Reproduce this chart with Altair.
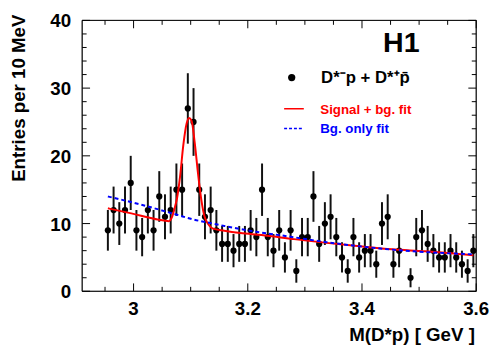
import altair as alt
import pandas as pd

# ---------------- data ----------------
mass = [2.955, 2.965, 2.975, 2.985, 2.995, 3.005, 3.015, 3.025, 3.035, 3.045,
        3.055, 3.065, 3.075, 3.085, 3.095, 3.105, 3.115, 3.125, 3.135, 3.145,
        3.155, 3.165, 3.175, 3.185, 3.195, 3.205, 3.215, 3.225, 3.235, 3.245,
        3.255, 3.265, 3.275, 3.285, 3.295, 3.305, 3.315, 3.325, 3.335, 3.345,
        3.355, 3.365, 3.375, 3.385, 3.395, 3.405, 3.415, 3.425, 3.435, 3.445,
        3.455, 3.465, 3.485, 3.495, 3.505, 3.515, 3.525, 3.535, 3.545, 3.555,
        3.565, 3.575, 3.585, 3.595]
counts = [9, 12, 10, 12, 16, 9, 8, 12, 9, 14,
          11, 12, 15, 15, 27, 25, 15, 11, 12, 9,
          7, 7, 6, 7, 7, 9, 8, 15, 8, 6,
          9, 5, 9, 3, 8, 8, 14, 7, 10, 11,
          8, 5, 3, 8, 5, 6, 6, 4, 10, 11,
          4, 6, 2, 8, 9, 7, 6, 5, 5, 6,
          5, 4, 3, 6]
errors = [3.0, 3.46, 3.16, 3.46, 4.0, 3.0, 2.83, 3.46, 3.0, 3.74,
          3.32, 3.46, 3.87, 3.87, 5.2, 5.0, 3.87, 3.32, 3.46, 3.0,
          2.65, 2.65, 2.45, 2.65, 2.65, 3.0, 2.83, 3.87, 2.83, 2.45,
          3.0, 2.24, 3.0, 1.73, 2.83, 2.83, 3.74, 2.65, 3.16, 3.32,
          2.83, 2.24, 1.73, 2.83, 2.24, 2.45, 2.45, 2.0, 3.16, 3.32,
          2.0, 2.45, 1.41, 2.83, 3.0, 2.65, 2.45, 2.24, 2.24, 2.45,
          2.24, 2.0, 1.73, 2.45]

sig_mass = [2.955, 2.996, 3.042, 3.062, 3.067, 3.072, 3.076, 3.0815, 3.087, 3.093,
            3.097, 3.1015, 3.107, 3.113, 3.119, 3.124, 3.130, 3.138, 3.159, 3.187,
            3.224, 3.281, 3.338, 3.396, 3.453, 3.510, 3.595]
sig_val = [12.25, 11.5, 10.6, 10.35, 10.9, 12.3, 13.7, 17.0, 21.5, 24.8,
           25.6, 25.2, 22.0, 17.3, 13.3, 11.1, 10.0, 9.3, 8.95, 8.6,
           8.3, 7.7, 7.15, 6.65, 6.2, 5.9, 5.3]

bg_mass = [2.955, 3.013, 3.076, 3.105, 3.130, 3.159, 3.187, 3.221, 3.259, 3.338, 3.453, 3.595]
bg_val = [14.0, 12.8, 11.3, 10.6, 10.15, 9.65, 9.2, 8.7, 8.25, 7.25, 6.15, 5.45]

x_range = [2.91, 3.6]
y_range = [0, 40]
x_label_vals = [3.0, 3.2, 3.4, 3.6]
x_label_text = ["3", "3.2", "3.4", "3.6"]
x_minor = [2.95, 3.05, 3.1, 3.15, 3.25, 3.3, 3.35, 3.45, 3.5, 3.55]
y_label_vals = [0, 10, 20, 30, 40]
y_label_text = ["0", "10", "20", "30", "40"]
y_minor = [2, 4, 6, 8, 12, 14, 16, 18, 22, 24, 26, 28, 32, 34, 36, 38]

legend_labels = ["D*\u207bp + D*\u207ap\u0304", "Signal + bg. fit", "Bg. only fit"]
experiment = "H1"
x_title = "M(D*p)  [ GeV ]"
y_title = "Entries per 10 MeV"

# ---------------- chart ----------------
W, H = 400, 275
FONT = "Liberation Sans"
xs = alt.Scale(domain=x_range, nice=False, zero=False)
ys = alt.Scale(domain=y_range, nice=False, zero=False)

pts = pd.DataFrame({"m": mass, "n": counts, "e": errors})
base = alt.Chart(pts)

dots = base.mark_circle(color="#000", size=40, opacity=1).encode(
    x=alt.X("m:Q", scale=xs, axis=None),
    y=alt.Y("n:Q", scale=ys, axis=None),
)

errbars = base.transform_calculate(
    lo="datum.n - datum.e", hi="datum.n + datum.e"
).mark_rule(color="#111", strokeWidth=2).encode(
    x=alt.X("m:Q", scale=xs, axis=None),
    y=alt.Y("lo:Q", scale=ys, axis=None),
    y2="hi:Q",
)

sig = alt.Chart(pd.DataFrame({"m": sig_mass, "v": sig_val})).mark_line(
    color="#ff0000", strokeWidth=2, interpolate="monotone"
).encode(x=alt.X("m:Q", scale=xs, axis=None), y=alt.Y("v:Q", scale=ys, axis=None))

bg = alt.Chart(pd.DataFrame({"m": bg_mass, "v": bg_val})).mark_line(
    color="#0000ff", strokeWidth=2, strokeDash=[4, 3], interpolate="monotone"
).encode(x=alt.X("m:Q", scale=xs, axis=None), y=alt.Y("v:Q", scale=ys, axis=None))


def yticks(vals, length):
    d = alt.Chart(pd.DataFrame({"v": vals}))
    left = d.mark_rule(color="#000", strokeWidth=1).encode(
        y=alt.Y("v:Q", scale=ys, axis=None), x=alt.value(0), x2=alt.value(length))
    right = d.mark_rule(color="#000", strokeWidth=1).encode(
        y=alt.Y("v:Q", scale=ys, axis=None), x=alt.value(W), x2=alt.value(W - length))
    return [left, right]


def xticks(vals, length):
    d = alt.Chart(pd.DataFrame({"v": vals}))
    bottom = d.mark_rule(color="#000", strokeWidth=1).encode(
        x=alt.X("v:Q", scale=xs, axis=None), y=alt.value(H), y2=alt.value(H - length))
    top = d.mark_rule(color="#000", strokeWidth=1).encode(
        x=alt.X("v:Q", scale=xs, axis=None), y=alt.value(0), y2=alt.value(length))
    return [bottom, top]


ticks = yticks(y_label_vals, 8) + yticks(y_minor, 4.5) + xticks(x_label_vals, 8) + xticks(x_minor, 4.5)

# plot frame as four thin filled bars along the axis ranges
frame_df = pd.DataFrame({
    "xa": [x_range[0], x_range[0], x_range[0], x_range[1]],
    "xb": [x_range[1], x_range[1], x_range[0], x_range[1]],
    "ya": [y_range[0], y_range[1], y_range[0], y_range[0]],
    "yb": [y_range[0], y_range[1], y_range[1], y_range[1]],
})
frame = alt.Chart(frame_df).mark_rect(
    color="#000", fill="#000", stroke="#000", strokeWidth=0.8, opacity=1
).encode(
    x=alt.X("xa:Q", scale=xs, axis=None), x2="xb:Q",
    y=alt.Y("ya:Q", scale=ys, axis=None), y2="yb:Q",
)

one = pd.DataFrame({"k": [0]})

ylabels = alt.Chart(pd.DataFrame({"v": y_label_vals, "t": y_label_text})).mark_text(
    font=FONT, fontSize=19, fontWeight="bold", color="#000",
    align="right", baseline="alphabetic", dy=7.2
).encode(y=alt.Y("v:Q", scale=ys, axis=None), x=alt.value(-11.3), text="t:N")

xlabels = alt.Chart(pd.DataFrame({"v": x_label_vals, "t": x_label_text})).mark_text(
    font=FONT, fontSize=19, fontWeight="bold", color="#000",
    align="center", baseline="alphabetic"
).encode(x=alt.X("v:Q", scale=xs, axis=None), y=alt.value(H + 24.3), text="t:N")

xtitle = alt.Chart(one).mark_text(
    text=x_title, font=FONT, fontSize=19, fontWeight="bold", color="#000",
    align="right", baseline="alphabetic"
).encode(x=alt.value(398.7), y=alt.value(H + 50.3))

ytitle = alt.Chart(one).mark_text(
    text=y_title, font=FONT, fontSize=19, fontWeight="bold", color="#000",
    align="right", baseline="alphabetic", angle=270
).encode(x=alt.value(-57.8), y=alt.value(-6))

h1 = alt.Chart(one).mark_text(
    text=experiment, font=FONT, fontSize=29, fontWeight="bold", color="#000",
    align="left", baseline="alphabetic"
).encode(x=alt.value(305.5), y=alt.value(32))

leg_dot = alt.Chart(one).mark_circle(color="#000", size=54, opacity=1).encode(
    x=alt.value(212.7), y=alt.value(58))
leg_t1 = alt.Chart(one).mark_text(
    text=legend_labels[0], font=FONT, fontSize=17, fontWeight="bold", color="#000",
    align="left", baseline="alphabetic"
).encode(x=alt.value(242.5), y=alt.value(63.7))

leg_red = alt.Chart(one).mark_rule(color="#ff0000", strokeWidth=1.5).encode(
    x=alt.value(205), x2=alt.value(225), y=alt.value(89.7))
leg_t2 = alt.Chart(one).mark_text(
    text=legend_labels[1], font=FONT, fontSize=13.5, fontWeight="bold", color="#ff0000",
    align="left", baseline="alphabetic"
).encode(x=alt.value(241.7), y=alt.value(95.3))

leg_blue = alt.Chart(one).mark_rule(color="#0000ff", strokeWidth=1.5, strokeDash=[3, 2]).encode(
    x=alt.value(205), x2=alt.value(225), y=alt.value(109.7))
leg_t3 = alt.Chart(one).mark_text(
    text=legend_labels[2], font=FONT, fontSize=13.5, fontWeight="bold", color="#0000ff",
    align="left", baseline="alphabetic"
).encode(x=alt.value(241.7), y=alt.value(114.7))

chart = alt.layer(
    errbars, dots, sig, bg, *ticks, frame, ylabels, xlabels, xtitle, ytitle,
    h1, leg_dot, leg_t1, leg_red, leg_t2, leg_blue, leg_t3
).properties(
    width=W, height=H,
    background="white",
    autosize=alt.AutoSizeParams(type="none"),
    padding={"left": 75.3, "top": 10, "right": 14, "bottom": 56},
).configure_view(strokeWidth=0)

chart.save("out.html", embed_options={"renderer": "svg", "actions": False})
